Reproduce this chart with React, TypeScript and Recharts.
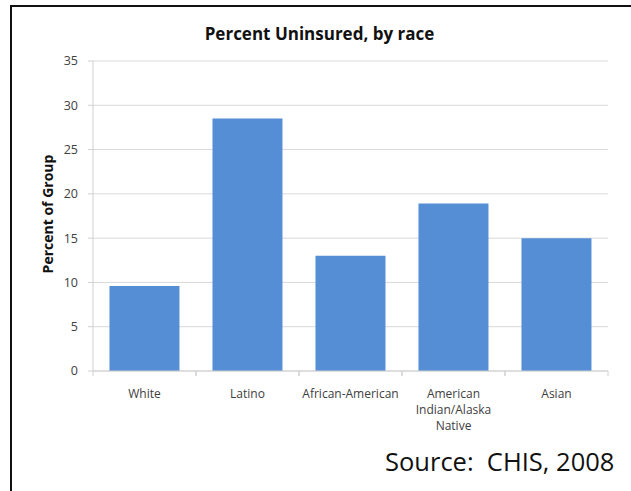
import { BarChart, Bar, XAxis, YAxis, CartesianGrid } from "recharts"

const categories = ["White", "Latino", "African-American", "American Indian/Alaska Native", "Asian"]
const uninsured = [9.6, 28.5, 13, 18.9, 15]
const yTicks = [0, 5, 10, 15, 20, 25, 30, 35]

const data = categories.map((race, i) => ({ race, value: uninsured[i] }))

const font = "'Open Sans', sans-serif"

function wrap(label: string, max: number) {
  const lines: string[] = []
  let cur = ""
  for (const w of label.split(" ")) {
    if (cur && (cur + " " + w).length > max) {
      lines.push(cur)
      cur = w
    } else {
      cur = cur ? cur + " " + w : w
    }
  }
  if (cur) lines.push(cur)
  return lines
}

function CategoryTick(props: any) {
  const { x, y, payload } = props
  const half = 51.5
  const lines = wrap(payload.value, 14)
  return (
    <g>
      <line x1={x - half} x2={x - half} y1={y - 8} y2={y - 3} stroke="#d0d0d0" />
      <line x1={x + half} x2={x + half} y1={y - 8} y2={y - 3} stroke="#d0d0d0" />
      <text x={x} y={y + 19} textAnchor="middle" fontSize={12} fill="#404040" fontFamily={font}>
        {lines.map((l, i) => (
          <tspan key={i} x={x} dy={i === 0 ? 0 : 16}>
            {l}
          </tspan>
        ))}
      </text>
    </g>
  )
}

export default function App() {
  return (
    <div style={{ position: "absolute", left: 0, top: 0, width: 631, height: 491, background: "white", overflow: "hidden" }}>
      <div
        style={{
          position: "absolute",
          left: 10,
          top: 5,
          width: 700,
          height: 600,
          border: "2px solid #111",
        }}
      />
      <div
        style={{
          position: "absolute",
          left: 0,
          width: 631,
          top: 22,
          textAlign: "center",
          fontFamily: font,
          fontWeight: 700,
          fontSize: 17,
          color: "#111",
          paddingLeft: 4,
        }}
      >
        Percent Uninsured, by race
      </div>
      <div style={{ position: "absolute", left: 385, top: 444, fontFamily: font, fontSize: 25.5, color: "#111", whiteSpace: "pre" }}>
        Source:  CHIS, 2008
      </div>
      <div style={{ position: "absolute", left: 0, top: 0 }}>
        <BarChart width={631} height={491} data={data} margin={{ top: 61, right: 23, left: 33, bottom: 90 }} barCategoryGap="16%">
          <CartesianGrid vertical={false} stroke="#d9d9d9" />
          <XAxis
            dataKey="race"
            height={30}
            interval={0}
            axisLine={{ stroke: "#d0d0d0" }}
            tickLine={false}
            tick={<CategoryTick />}
          />
          <YAxis
            width={60}
            domain={[0, 35]}
            ticks={yTicks}
            interval={0}
            axisLine={{ stroke: "#d0d0d0" }}
            tickLine={{ stroke: "#d0d0d0" }}
            tickSize={5}
            tickMargin={10}
            tick={{ fontSize: 12.5, fill: "#404040", fontFamily: font }}
            label={{
              content: () => (
                <text x={53} y={214} transform="rotate(-90 53 214)" textAnchor="middle" fontSize={14} fontWeight={700} fill="#111" fontFamily={font}>
                  Percent of Group
                </text>
              ),
            }}
          />
          <Bar dataKey="value" fill="#558ed5" isAnimationActive={false} />
        </BarChart>
      </div>
    </div>
  )
}
